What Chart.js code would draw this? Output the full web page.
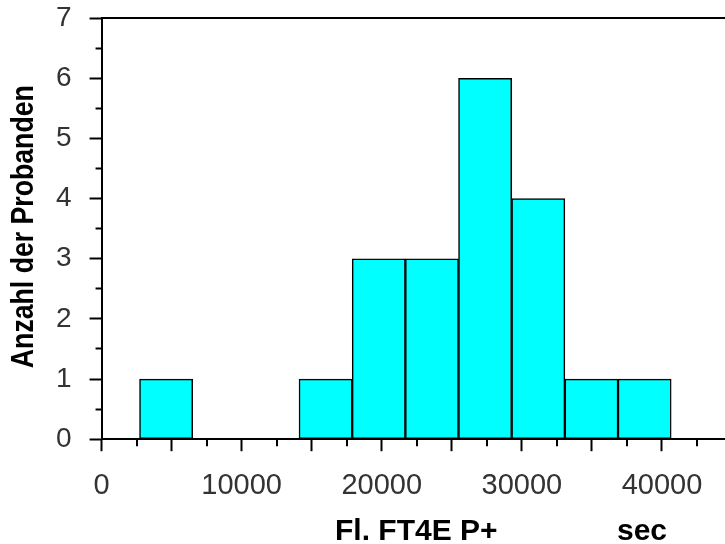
<!DOCTYPE html>
<html lang="de">
<head>
    <meta charset="UTF-8">
    <title>Anzahl der Probanden - Fl. FT4E P+</title>
    <script src="https://cdn.jsdelivr.net/npm/chart.js"></script>
    <style>
        html, body { margin: 0; padding: 0; background: #fff; }
        #wrap { width: 725px; height: 544px; }
    </style>
</head>
<body>
    <div id="wrap"><canvas id="myChart"></canvas></div>

    <script>
        // Histogram data (bin centres in sec, counts)
        const binCenters = [4607, 8402, 12197, 15992, 19787, 23582, 27377, 31172, 34967, 38762];
        const counts = [1, 0, 0, 1, 3, 3, 6, 4, 1, 1];

        // x axis: long ticks every 5000, labels every 10000, short ticks in between
        const xMajorTicks = [0, 5000, 10000, 15000, 20000, 25000, 30000, 35000, 40000];
        const xMinorTicks = [2500, 7500, 12500, 17500, 22500, 27500, 32500, 37500, 42500];
        const xLabelStep = 10000;
        const xMax = 44500;

        const yTitle = 'Anzahl der Probanden';
        const xTitleLeft = 'Fl. FT4E P+';
        const xTitleRight = 'sec';

        // titles drawn by hand: the y title is a condensed face, the x title is split in two
        const titlesPlugin = {
            id: 'titles',
            afterDraw(chart) {
                const ctx = chart.ctx;
                const area = chart.chartArea;
                const xs = chart.scales.x;
                ctx.save();
                // short x ticks
                ctx.strokeStyle = '#000';
                ctx.lineWidth = 2;
                ctx.beginPath();
                xMinorTicks.forEach(v => {
                    const px = Math.round(xs.getPixelForValue(v));
                    ctx.moveTo(px, area.bottom);
                    ctx.lineTo(px, area.bottom + 7);
                });
                ctx.stroke();

                ctx.fillStyle = '#000';
                ctx.font = 'bold 30px "Liberation Sans", Arial, sans-serif';
                ctx.textBaseline = 'alphabetic';
                ctx.textAlign = 'left';
                ctx.fillText(xTitleLeft, 335, 540);
                ctx.fillText(xTitleRight, 617, 540);

                ctx.translate(24, (area.top + area.bottom) / 2 - 2);
                ctx.rotate(-Math.PI / 2);
                ctx.scale(0.86, 1);
                ctx.font = 'bold 31px "Liberation Sans", Arial, sans-serif';
                ctx.textAlign = 'center';
                ctx.textBaseline = 'middle';
                ctx.fillText(yTitle, 0, 0);
                ctx.restore();
            }
        };

        const ctx = document.getElementById('myChart').getContext('2d');
        new Chart(ctx, {
            type: 'bar',
            data: {
                datasets: [{
                    data: binCenters.map((x, i) => ({ x: x, y: counts[i] })),
                    backgroundColor: '#00ffff',
                    borderColor: '#000',
                    borderWidth: 1.5,
                    borderSkipped: false,
                    barPercentage: 1,
                    categoryPercentage: 1
                }]
            },
            options: {
                responsive: true,
                maintainAspectRatio: false,
                animation: false,
                layout: { padding: { left: 38, top: 0, right: 0, bottom: 24 } },
                plugins: {
                    legend: { display: false },
                    tooltip: { enabled: false }
                },
                scales: {
                    x: {
                        type: 'linear',
                        position: 'bottom',
                        offset: false,
                        min: 0,
                        max: xMax,
                        afterBuildTicks: axis => {
                            axis.ticks = xMajorTicks.map(v => ({ value: v }));
                        },
                        ticks: {
                            autoSkip: false,
                            maxRotation: 0,
                            padding: 17,
                            color: '#333',
                            font: { family: '"Liberation Sans", Arial, sans-serif', size: 29 },
                            callback: v => (v % xLabelStep === 0 ? String(v) : '')
                        },
                        grid: {
                            offset: false,
                            drawOnChartArea: false,
                            tickLength: 12,
                            tickWidth: 2,
                            tickColor: '#000'
                        },
                        border: { color: '#000', width: 2 }
                    },
                    xTop: {
                        type: 'linear',
                        position: 'top',
                        offset: false,
                        min: 0,
                        max: xMax,
                        ticks: { display: false },
                        grid: { display: false, drawTicks: false },
                        border: { display: true, color: '#000', width: 2 }
                    },
                    y: {
                        min: 0,
                        max: 7,
                        ticks: {
                            stepSize: 0.5,
                            autoSkip: false,
                            padding: 18,
                            color: '#333',
                            font: { family: '"Liberation Sans", Arial, sans-serif', size: 28, lineHeight: 0.01 },
                            callback: v => (v % 1 === 0 ? String(v) : '')
                        },
                        grid: {
                            drawOnChartArea: false,
                            tickLength: 12,
                            tickWidth: 2,
                            tickColor: '#000',
                            tickBorderDash: c => (c.tick && c.tick.value % 1 !== 0 ? [0, 6, 20, 0] : [])
                        },
                        border: { color: '#000', width: 2 }
                    }
                }
            },
            plugins: [titlesPlugin]
        });
    </script>
</body>
</html>
